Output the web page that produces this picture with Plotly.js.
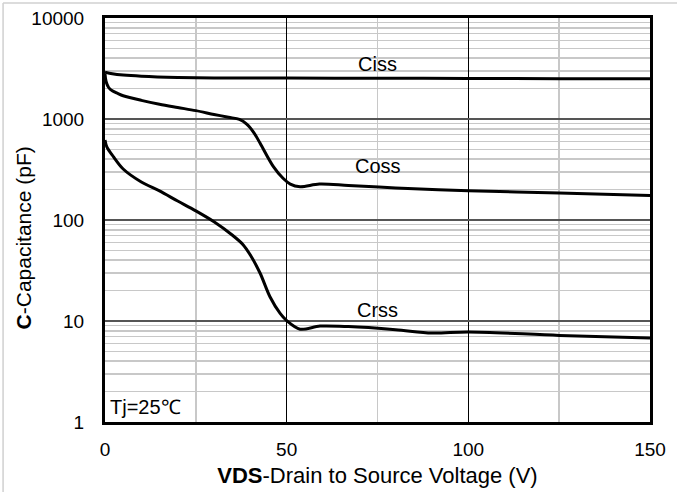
<!DOCTYPE html>
<html>
<head>
<meta charset="utf-8">
<script src="https://cdn.plot.ly/plotly-3.0.1.min.js"></script>
<style>html,body{margin:0;padding:0;background:#fff;}#chart{width:677px;height:492px;}</style>
</head>
<body>
<div id="chart"></div>
<script>
// Data (VDS in V, capacitance in pF)
const cissV = [0, 2, 5, 10, 20, 30, 50, 75, 100, 125, 150];
const cissC = [2900, 2800, 2720, 2650, 2580, 2550, 2540, 2530, 2520, 2510, 2500];

const cossV = [0, 0.3, 1, 2, 3.5, 5, 10, 15, 20, 25, 30, 34, 37, 39, 41, 42.7, 46.3, 49, 51, 53.7, 59, 67, 80, 100, 125, 150];
const cossC = [2800, 2350, 2050, 1900, 1790, 1700, 1530, 1400, 1300, 1210, 1110, 1040, 990, 890, 730, 575, 340, 259, 227, 214, 227, 220, 208, 195, 185, 175];

const crssV = [0, 0.5, 2.3, 5, 10, 15, 20, 25, 30, 35, 38, 40, 42.7, 45.4, 48.2, 50, 53.7, 59.2, 67, 80, 90, 100, 125, 150];
const crssC = [620, 530, 424, 320, 238, 194, 154, 123, 96, 71, 57, 45, 29.7, 17.4, 11.9, 10.1, 8.3, 8.9, 8.8, 8.2, 7.6, 7.8, 7.2, 6.8];

const xTicks = [0, 50, 100, 150];
const yTicks = [1, 10, 100, 1000, 10000];
const yTickText = ['1', '10', '100', '1000', '10000'];

const labels = [
  {text: 'Ciss', v: 75, c: 3500},
  {text: 'Coss', v: 75, c: 343},
  {text: 'Crss', v: 75, c: 12.8}
];

const FONT = 'Arial, "Liberation Sans", sans-serif';
const lineStyle = {color: '#000', width: 3, shape: 'spline', smoothing: 0.9};

const traces = [
  {x: cissV, y: cissC, mode: 'lines', line: lineStyle, hoverinfo: 'skip'},
  {x: cossV, y: cossC, mode: 'lines', line: lineStyle, hoverinfo: 'skip'},
  {x: crssV, y: crssC, mode: 'lines', line: lineStyle, hoverinfo: 'skip'}
];

const annotations = labels.map(l => ({
  x: l.v, y: Math.log10(l.c), xref: 'x', yref: 'y', text: l.text, showarrow: false,
  font: {family: FONT, size: 20, color: '#000'}, xanchor: 'center', yanchor: 'middle'
}));
annotations.push({
  x: 0.8, y: Math.log10(1.41), xref: 'x', yref: 'y', text: 'Tj=25℃', showarrow: false,
  font: {family: FONT, size: 20, color: '#000'}, xanchor: 'left', yanchor: 'middle'
});
annotations.push({
  x: -0.150, y: 0.455, xref: 'paper', yref: 'paper', text: '<b>C</b>-Capacitance (pF)', showarrow: false,
  textangle: -90, font: {family: FONT, size: 21, color: '#000'}, xanchor: 'center', yanchor: 'middle'
});

const layout = {
  width: 677, height: 492,
  margin: {l: 105, r: 27, t: 18, b: 70, pad: 0},
  paper_bgcolor: '#fff', plot_bgcolor: '#fff',
  showlegend: false,
  font: {family: FONT, size: 19, color: '#000'},
  xaxis: {
    range: [0, 150], tickvals: xTicks, ticks: '', ticklabelstandoff: 8,
    showgrid: true, gridcolor: '#000', gridwidth: 1,
    minor: {dtick: 25, showgrid: true, gridcolor: '#c8c8c8', gridwidth: 1.5},
    showline: true, linecolor: '#000', linewidth: 3, mirror: true, zeroline: false,
    tickfont: {family: FONT, size: 19, color: '#000'},
    title: {text: '<b>VDS</b>-Drain to Source Voltage (V)', font: {family: FONT, size: 22, color: '#000'}, standoff: 9}
  },
  yaxis: {
    type: 'log', range: [0, 4], tickvals: yTicks, ticktext: yTickText, ticks: '', ticklabelstandoff: 14,
    showgrid: true, gridcolor: '#555', gridwidth: 1.5,
    minor: {dtick: 'D1', showgrid: true, gridcolor: '#c8c8c8', gridwidth: 1.5},
    showline: true, linecolor: '#000', linewidth: 3, mirror: true, zeroline: false,
    tickfont: {family: FONT, size: 19, color: '#000'}
  },
  annotations: annotations,
  shapes: [
    {type: 'line', xref: 'paper', yref: 'paper', x0: -0.187, x1: 1.06, y0: 1.037, y1: 1.037, line: {color: '#d0d0d0', width: 1.5}},
    {type: 'line', xref: 'paper', yref: 'paper', x0: -0.187, x1: -0.187, y0: 1.037, y1: -0.18, line: {color: '#d0d0d0', width: 1.5}}
  ]
};

Plotly.newPlot('chart', traces, layout, {staticPlot: true, displayModeBar: false});
</script>
</body>
</html>
